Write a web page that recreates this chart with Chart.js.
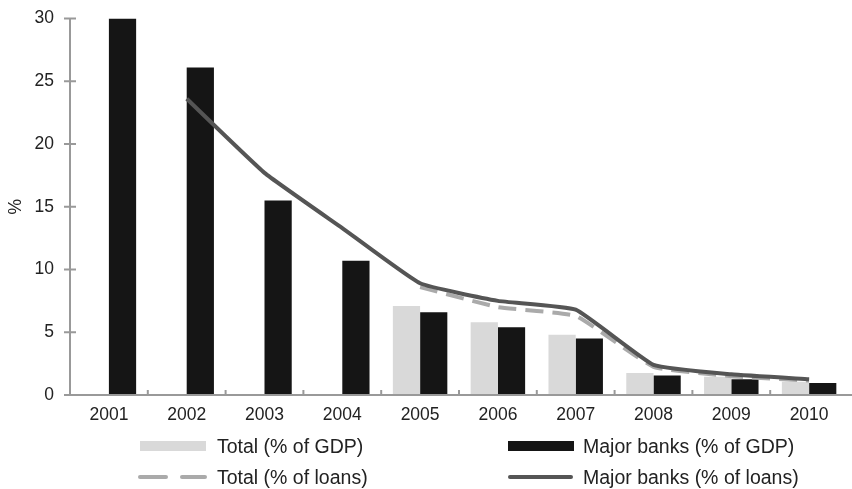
<!DOCTYPE html>
<html>
<head>
<meta charset="utf-8">
<script src="https://cdn.jsdelivr.net/npm/chart.js@4/dist/chart.umd.min.js"></script>
<style>
  body { margin: 0; background: #fff; font-family: "Liberation Sans", Arial, sans-serif; }
  #wrap { position: relative; width: 852px; height: 489px; }
  #legend .item { position: absolute; font-size: 19.5px; color: #222; line-height: 22px; white-space: nowrap; }
  #legend .sw { position: absolute; }
</style>
</head>
<body>
<div id="wrap">
  <canvas id="chart" width="852" height="489"></canvas>
  <div id="legend"></div>
</div>
<script>
const years = ['2001','2002','2003','2004','2005','2006','2007','2008','2009','2010'];
const totalGdp = [null, null, null, null, 7.1, 5.8, 4.8, 1.75, 1.45, 1.05];
const majorGdp = [30.0, 26.1, 15.5, 10.7, 6.6, 5.4, 4.5, 1.55, 1.25, 0.95];
const totalLoans = [null, null, null, null, 8.6, 7.0, 6.3, 2.25, 1.5, 1.15];
const majorLoans = [null, 23.6, 17.7, 13.3, 8.9, 7.5, 6.8, 2.4, 1.65, 1.25];
const yTicks = [0, 5, 10, 15, 20, 25, 30];

const axisColor = '#999';

// axes drawn by hand: ticks cross the y axis, x ticks sit between categories
const axesPlugin = {
  id: 'axes',
  afterDatasetsDraw(chart) {
    const { ctx, chartArea: a, scales } = chart;
    ctx.save();
    ctx.strokeStyle = axisColor;
    ctx.lineWidth = 2;
    ctx.beginPath();
    ctx.moveTo(a.left, a.top);
    ctx.lineTo(a.left, a.bottom);
    ctx.moveTo(a.left - 6, a.bottom);
    ctx.lineTo(852, a.bottom);
    yTicks.forEach(v => {
      const y = scales.y.getPixelForValue(v);
      ctx.moveTo(a.left - 6, y);
      ctx.lineTo(a.left + 6, y);
    });
    for (let i = 1; i < years.length; i++) {
      const x = (scales.x.getPixelForValue(i - 1) + scales.x.getPixelForValue(i)) / 2;
      ctx.moveTo(x, a.bottom);
      ctx.lineTo(x, a.bottom - 5);
    }
    ctx.stroke();
    ctx.restore();
  }
};

new Chart(document.getElementById('chart'), {
  data: {
    labels: years,
    datasets: [
      { type: 'line', label: 'Major banks (% of loans)', data: majorLoans, borderColor: '#555', borderWidth: 4,
        pointRadius: 0, tension: 0.12, order: 1 },
      { type: 'line', label: 'Total (% of loans)', data: totalLoans, borderColor: '#aaa', borderWidth: 4,
        borderDash: [18, 9], pointRadius: 0, tension: 0.12, order: 2 },
      { type: 'bar', label: 'Total (% of GDP)', data: totalGdp, backgroundColor: '#d9d9d9', order: 3,
        categoryPercentage: 0.7, barPercentage: 1 },
      { type: 'bar', label: 'Major banks (% of GDP)', data: majorGdp, backgroundColor: '#151515', order: 3,
        categoryPercentage: 0.7, barPercentage: 1 }
    ]
  },
  options: {
    responsive: false,
    animation: false,
    layout: { padding: { top: 9, right: 4, left: 0, bottom: 0 } },
    plugins: { legend: { display: false }, tooltip: { enabled: false } },
    scales: {
      x: {
        grid: { display: false },
        border: { display: false },
        ticks: { color: '#222', font: { family: 'Liberation Sans', size: 17.5 }, padding: 2, maxRotation: 0 },
        afterFit(s) { s.height = 94; }
      },
      y: {
        min: 0, max: 30,
        grid: { display: false },
        border: { display: false },
        afterBuildTicks(s) { s.ticks = yTicks.map(v => ({ value: v })); },
        ticks: { color: '#222', font: { family: 'Liberation Sans', size: 17.5 }, padding: 8 },
        title: { display: true, text: '%', color: '#222', font: { family: 'Liberation Sans', size: 17.5 },
          padding: { top: 6, bottom: 0 } },
        afterFit(s) { s.width = 70; }
      }
    }
  },
  plugins: [axesPlugin]
});

// legend in two columns, built as html
const legendItems = [
  { label: 'Total (% of GDP)', x: 140, tx: 217, y: 446, kind: 'box', color: '#d9d9d9' },
  { label: 'Major banks (% of GDP)', x: 508, tx: 583, y: 446, kind: 'box', color: '#151515' },
  { label: 'Total (% of loans)', x: 138, tx: 217, y: 477, kind: 'dash', color: '#aaa' },
  { label: 'Major banks (% of loans)', x: 508, tx: 583, y: 477, kind: 'line', color: '#555' }
];
const leg = document.getElementById('legend');
legendItems.forEach(it => {
  const sw = (l, w, h, r) => {
    const d = document.createElement('div');
    d.className = 'sw';
    d.style.cssText = `left:${l}px;top:${it.y - h / 2}px;width:${w}px;height:${h}px;background:${it.color};border-radius:${r}px`;
    leg.appendChild(d);
  };
  if (it.kind === 'box') sw(it.x, 66, 10, 0);
  else if (it.kind === 'line') sw(it.x, 65, 4, 2);
  else { sw(it.x, 30, 4, 2); sw(it.x + 42, 27, 4, 2); }
  const t = document.createElement('div');
  t.className = 'item';
  t.textContent = it.label;
  t.style.left = it.tx + 'px';
  t.style.top = (it.y - 11) + 'px';
  leg.appendChild(t);
});
</script>
</body>
</html>
